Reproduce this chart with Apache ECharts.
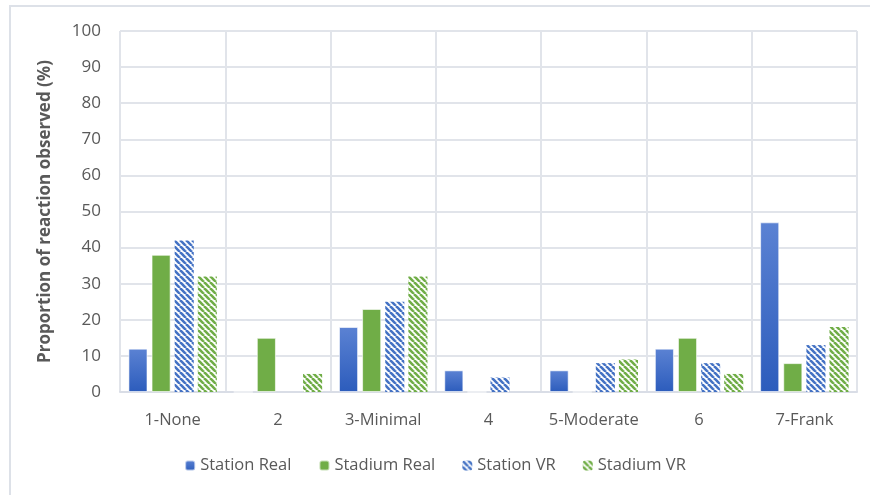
<!DOCTYPE html>
<html><head><meta charset="utf-8">
<script src="https://cdn.jsdelivr.net/npm/echarts@6/dist/echarts.min.js"></script>
<style>html,body{margin:0;padding:0;background:#fff}#c{width:870px;height:495px}</style>
</head><body><div id="c"></div>
<script>
const categories = ['1-None','2','3-Minimal','4','5-Moderate','6','7-Frank'];
const stationReal = [12, 0, 18, 6, 6, 12, 47];
const stadiumReal = [38, 15, 23, 0, 0, 15, 8];
const stationVR = [42, 0, 25, 4, 8, 8, 13];
const stadiumVR = [32, 5, 32, 0, 9, 5, 18];
const yTicks = [0,10,20,30,40,50,60,70,80,90,100];

function hatch(color){
  const s = 6;
  const c = document.createElement('canvas');
  c.width = s; c.height = s;
  const ctx = c.getContext('2d');
  ctx.fillStyle = '#ffffff'; ctx.fillRect(0,0,s,s);
  ctx.strokeStyle = color; ctx.lineWidth = 2.6;
  for (let k=-1;k<=1;k++){ ctx.beginPath(); ctx.moveTo(k*s,0); ctx.lineTo(k*s+s,s); ctx.stroke(); }
  return c;
}
const FONT = 'Open Sans';
const blueGrad = new echarts.graphic.LinearGradient(0,0,0,1,[{offset:0,color:'#5b82d3'},{offset:1,color:'#2c5cbc'}]);
const green = '#70ad47';
const chart = echarts.init(document.getElementById('c'), null, {renderer:'canvas'});
const common = {type:'bar', barGap:'21%', barCategoryGap:'16%'};
chart.setOption({
  animation:false,
  textStyle:{fontFamily:FONT},
  graphic:[{type:'rect', shape:{x:10,y:6,width:900,height:520}, style:{fill:'none', stroke:'#dde1e8', lineWidth:2}, silent:true}],
  grid:{left:120,right:13,top:31,bottom:103},
  legend:{bottom:16, left:'center', itemWidth:10, itemHeight:10, itemGap:27,
    textStyle:{fontSize:16.5,color:'#595959',fontFamily:FONT},
    data:['Station Real','Stadium Real','Station VR','Stadium VR']},
  xAxis:{type:'category', data:categories,
    axisLine:{lineStyle:{color:'#d9dde6',width:2}}, axisTick:{show:false},
    axisLabel:{fontSize:16.5,color:'#595959',margin:20,fontFamily:FONT,interval:0},
    splitLine:{show:true,interval:0,lineStyle:{color:'#e1e4ea',width:2}}},
  yAxis:{type:'value', min:yTicks[0], max:yTicks[yTicks.length-1], interval:10,
    name:'Proportion of reaction observed (%)', nameLocation:'middle', nameGap:66,
    nameTextStyle:{fontSize:17,fontWeight:'bold',color:'#595959',fontFamily:FONT},
    axisLine:{show:false}, axisTick:{show:false},
    axisLabel:{fontSize:17,color:'#595959',margin:19,fontFamily:FONT},
    splitLine:{lineStyle:{color:'#e1e4ea',width:2}}},
  series:[
    Object.assign({name:'Station Real', data:stationReal, color:'#4472c4'}, common, {itemStyle:{color:blueGrad,borderColor:'rgba(255,255,255,0.6)',borderWidth:1}}),
    Object.assign({name:'Stadium Real', data:stadiumReal, color:green}, common, {itemStyle:{color:green,borderColor:'rgba(255,255,255,0.6)',borderWidth:1}}),
    Object.assign({name:'Station VR', data:stationVR}, common, {itemStyle:{color:{image:hatch('#4472c4'),repeat:'repeat'},borderWidth:0}}),
    Object.assign({name:'Stadium VR', data:stadiumVR}, common, {itemStyle:{color:{image:hatch('#70ad47'),repeat:'repeat'},borderWidth:0}})
  ]
});
</script></body></html>
